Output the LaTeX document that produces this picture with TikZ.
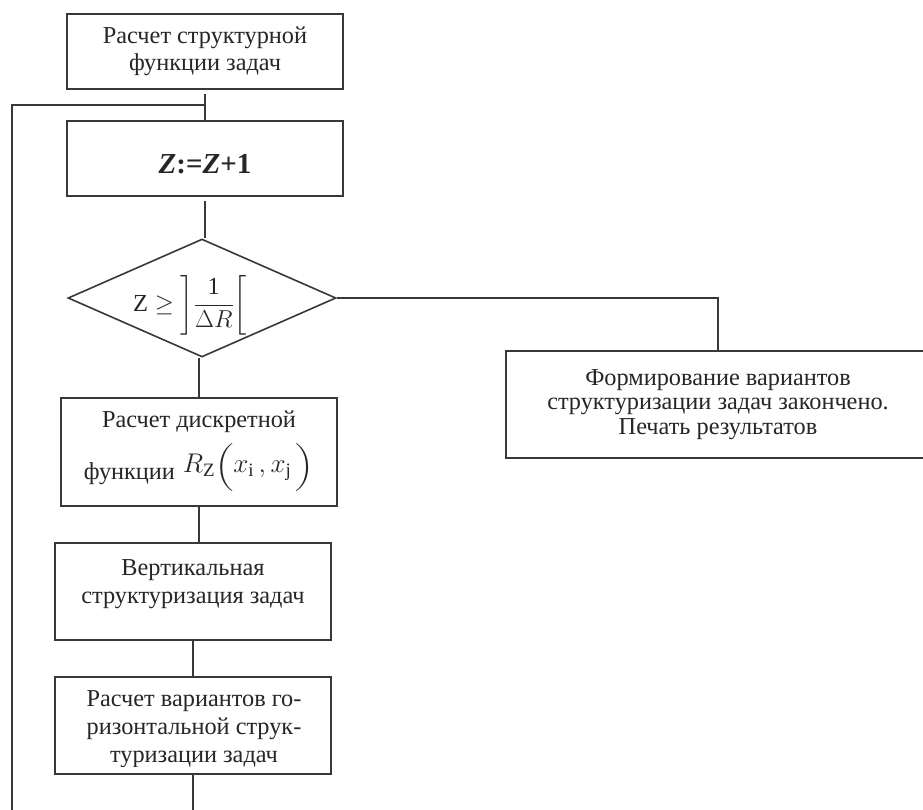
\RequirePackage{fix-cm}
\documentclass[tikz,border=0pt]{standalone}
\usepackage{amsmath}
\usepackage{graphicx}
\usepackage[no-math]{fontspec}
\setmainfont{Liberation Serif}
\usetikzlibrary{shapes.geometric}

\tikzset{
  line/.style={draw=black!78, line width=1.6pt},
  txt/.style={inner sep=0pt, align=center, text=black!85,
              font=\fontsize{24.3}{27.5}\selectfont},
  box/.style={line, fill=white, rectangle, txt},
  decision/.style={line, fill=white, diamond, inner sep=0pt, aspect=2.27},
}
% tall parentheses, squeezed a little in height
\newcommand{\tallL}{\scalebox{1}[0.8]{\hbox{\fontsize{23}{26}\selectfont$\biggl($}}}
\newcommand{\tallR}{\scalebox{1}[0.8]{\hbox{\fontsize{23}{26}\selectfont$\biggr)$}}}

\begin{document}
\begin{tikzpicture}[x=1pt, y=-1pt]
\useasboundingbox (0,0) rectangle (923,809);
\clip (0,0) rectangle (923,809);

% blocks of the main column
\node[box, minimum width=276pt, minimum height=75pt] (b1) at (205,51.5)
  {Расчет структурной\\функции задач};
\node[box, minimum width=276pt, minimum height=75pt] (b2) at (205,158.5) {};
\node[txt, anchor=base, font=\fontsize{29}{32}\selectfont\bfseries] (b2t) at (205,173)
  {\textit{Z}:=\textit{Z}+1};

\node[decision, minimum width=268pt, minimum height=118pt] (dia) at (202,298) {};
\node[txt, font=\fontsize{24.5}{28}\selectfont] (diat) at (190,305)
  {$\text{Z}\geq\left]\dfrac{\text{1}}{\Delta R}\right[$};

\node[box, minimum width=276pt, minimum height=108pt] (b3) at (199,452) {};
\node[txt, anchor=base] (b3a) at (199,427) {Расчет дискретной};
\node[txt, anchor=base] (b3b) at (199,479)
  {функции\hspace{8pt}\raisebox{7pt}{\fontsize{27}{30}\selectfont
   $R_{\text{Z}}\tallL x_{\text{i}}\,, x_{\text{j}}\,\tallR$}};

\node[box, minimum width=276pt, minimum height=97pt] (b4) at (193,591.5) {};
\node[txt, font=\fontsize{24.3}{28}\selectfont] (b4t) at (193,584)
  {Вертикальная\\структуризация задач};

\node[box, minimum width=276pt, minimum height=97pt] (b5) at (193,725.5) {};
\begin{scope}
  \clip (b5.north west) rectangle (331,766);
  \node[txt, font=\fontsize{24.3}{28}\selectfont] (b5t) at (194,729.5)
    {Расчет вариантов го-\\ризонтальной струк-\\туризации задач};
\end{scope}

% exit block
\node[box, minimum width=424pt, minimum height=107pt,
      font=\fontsize{24.3}{24.5}\selectfont] (b6) at (718,404.5)
  {Формирование вариантов\\структуризации задач закончено.\\Печать результатов};

% loop return and open ends
\coordinate (J) at (205,105);
\coordinate (L) at (12,105);
\coordinate (Lend) at (12,815);
\coordinate (Bend) at (193,815);

% connectors
\draw[line, shorten <=4pt] (b1.south) -- (b2.north);
\draw[line] (J) -- (L) -- (Lend);
\draw[line, shorten <=4pt] (b2.south) -- (b2.south |- dia.north);
\draw[line] (dia.east) -| (b6.north);
\draw[line] (dia.south -| b3.north) -- (b3.north);
\draw[line] (b3.south) -- (b3.south |- b4.north);
\draw[line] (b4.south) -- (b4.south |- b5.north);
\draw[line] (b5.south) -- (Bend);
\end{tikzpicture}
\end{document}
